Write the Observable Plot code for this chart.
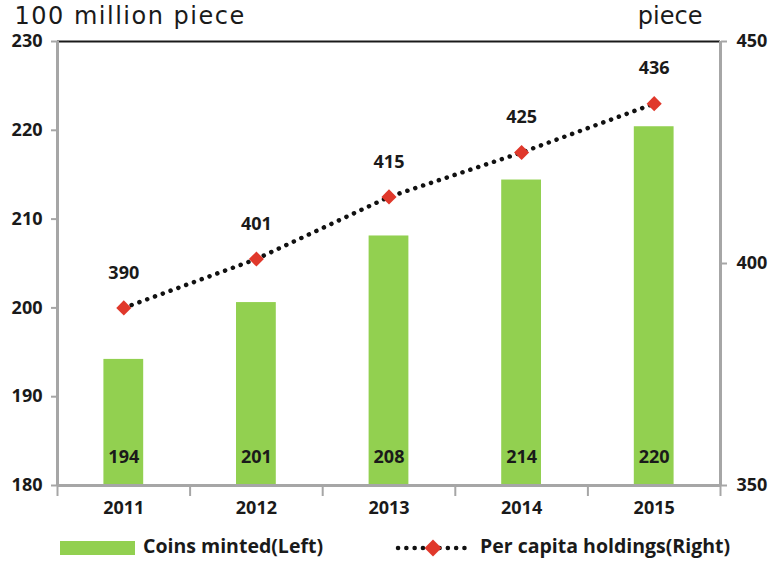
<!DOCTYPE html>
<html><head><meta charset="utf-8">
<script src="https://cdn.jsdelivr.net/npm/d3@7"></script>
<script src="https://cdn.jsdelivr.net/npm/@observablehq/plot@0.6"></script>
<style>
body{margin:0;background:#fff;font-family:"Open Sans","Noto Sans",sans-serif;}
#wrap{position:relative;width:772px;height:561px;overflow:hidden}
#legend{position:absolute;left:0;top:525px;width:772px;height:36px;font-weight:bold;font-size:19.5px;color:#1a1a1a}
.sw{position:absolute}
.lt{position:absolute;white-space:nowrap;line-height:1}
.unit-left text{letter-spacing:1.5px}
</style></head>
<body><div id="wrap"><div id="chart"></div><div id="legend"></div></div>
<script>
const years = [2011, 2012, 2013, 2014, 2015];
const coinsMinted = [194.2, 200.6, 208.1, 214.4, 220.4];
const coinsLabels = [194, 201, 208, 214, 220];
const perCapita = [390, 401, 415, 425, 436];
const leftTicks = [180, 190, 200, 210, 220, 230];
const rightTicks = [350, 400, 450];
const leftDomain = [180, 230];
const rightDomain = [350, 450];
const leftUnit = "100 million piece";
const rightUnit = "piece";
const seriesNames = ["Coins minted(Left)", "Per capita holdings(Right)"];

const toLeft = v => leftDomain[0] + (v - rightDomain[0]) * (leftDomain[1] - leftDomain[0]) / (rightDomain[1] - rightDomain[0]);
const toRight = v => rightDomain[0] + (v - leftDomain[0]) * (rightDomain[1] - rightDomain[0]) / (leftDomain[1] - leftDomain[0]);

const data = years.map((y, i) => ({year: y, coins: coinsMinted[i], coinLabel: coinsLabels[i], pc: perCapita[i], pcLeft: toLeft(perCapita[i])}));
const bounds = [years[0] - 0.5, ...years.map(y => y + 0.5)];

const GREEN = "#92d050", RED = "#e0382b", GRAY = "#a6a6a6", INK = "#1a1a1a";
const FONT = "'Open Sans','Noto Sans',sans-serif";
const UNIT_FONT = "'DejaVu Sans','Noto Sans',sans-serif";

const chart = Plot.plot({
  width: 772, height: 525,
  marginLeft: 57, marginRight: 52, marginTop: 41, marginBottom: 40,
  x: {domain: [bounds[0], bounds[bounds.length - 1]]},
  y: {domain: leftDomain},
  style: {fontFamily: FONT, fontSize: "18px", fontWeight: "bold", color: INK, background: "#fff", overflow: "visible"},
  marks: [
    Plot.rectY(data, {x1: d => d.year - 0.15, x2: d => d.year + 0.15, y1: leftDomain[0], y2: "coins", fill: GREEN}),
    Plot.text(data, {x: "year", y: leftDomain[0], text: "coinLabel", dy: -28, fill: INK, fontSize: 18, fontWeight: "bold"}),
    Plot.ruleY([leftDomain[1]], {stroke: INK, strokeWidth: 2}),
    Plot.ruleY([leftDomain[0]], {stroke: GRAY, strokeWidth: 3}),
    Plot.ruleX([bounds[0], bounds[bounds.length - 1]], {stroke: GRAY, strokeWidth: 3}),
    Plot.axisY(leftTicks, {anchor: "left", tickSize: 6, tickPadding: 9, stroke: GRAY, strokeWidth: 2, label: null, tickFormat: d => String(d)}),
    Plot.axisY(rightTicks.map(toLeft), {anchor: "right", tickSize: 6, tickPadding: 10, stroke: GRAY, strokeWidth: 2, label: null, tickFormat: d => String(Math.round(toRight(d)))}),
    Plot.axisX(bounds, {anchor: "bottom", tickSize: 11, stroke: GRAY, strokeWidth: 2, tickFormat: () => "", label: null}),
    Plot.axisX(years, {anchor: "bottom", tickSize: 0, tickPadding: 16, tickFormat: d => String(d), label: null}),
    Plot.line(data, {x: "year", y: "pcLeft", stroke: "#111", strokeWidth: 4.5, strokeDasharray: "0.1 8.2", strokeLinecap: "round"}),
    Plot.dot(data, {x: "year", y: "pcLeft", symbol: "diamond2", r: 6.8, fill: RED, stroke: null}),
    Plot.text(data, {x: "year", y: "pcLeft", text: "pc", dy: -35, fill: INK, fontSize: 18, fontWeight: "bold"}),
    Plot.text([leftUnit], {className: "unit-left", frameAnchor: "top-left", text: d => d, dx: -43, dy: -25, lineAnchor: "middle", textAnchor: "start", fontSize: 24, fontFamily: UNIT_FONT, fontWeight: "normal", fill: INK}),
    Plot.text([rightUnit], {frameAnchor: "top-right", text: d => d, dx: -18, dy: -25, lineAnchor: "middle", textAnchor: "end", fontSize: 24, fontFamily: UNIT_FONT, fontWeight: "normal", fill: INK})
  ]
});
document.getElementById("chart").appendChild(chart);

const lg = document.getElementById("legend");
lg.innerHTML = `
<div class="sw" style="left:60px;top:16px;width:75px;height:14px;background:${GREEN}"></div>
<div class="lt" style="left:143px;top:11px">${seriesNames[0]}</div>
<svg class="sw" style="left:394px;top:12px" width="78" height="22">
  <line x1="4" y1="11" x2="74" y2="11" stroke="#111" stroke-width="4.5" stroke-dasharray="0.1 8.2" stroke-linecap="round"/>
  <rect x="33" y="5" width="12" height="12" fill="${RED}" transform="rotate(45 39 11)"/>
</svg>
<div class="lt" style="left:480px;top:11px">${seriesNames[1]}</div>`;
</script>
</body></html>
